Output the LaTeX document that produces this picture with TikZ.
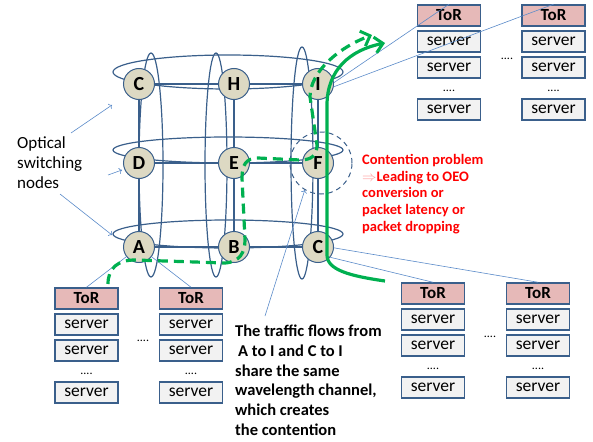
\documentclass[tikz,border=0pt]{standalone}
\usepackage{fontspec}
\setmainfont{Carlito}
\usetikzlibrary{arrows.meta,positioning}

\definecolor{ringblue}{HTML}{3A5F8B}
\definecolor{linkblue}{HTML}{5B8BC9}
\definecolor{nodefill}{HTML}{DDD9C3}
\definecolor{torfill}{HTML}{E6B9B8}
\definecolor{srvfill}{HTML}{F2F2F2}
\definecolor{flowgreen}{HTML}{00B050}

\tikzset{
	switch/.style={circle, draw=ringblue, fill=nodefill, line width=1pt, minimum size=31pt, inner sep=0pt, font=\fontsize{20}{20}\selectfont\bfseries},
	ring/.style={draw=ringblue, line width=1.2pt},
	torbox/.style={rectangle, draw=ringblue, fill=torfill, line width=1.5pt, minimum width=63pt, minimum height=21pt, inner sep=0pt, font=\fontsize{17}{17}\selectfont\bfseries},
	serverbox/.style={torbox, fill=srvfill, font=\fontsize{17.5}{17.5}\selectfont},
	dotsnode/.style={inner sep=0pt, font=\fontsize{12}{12}\selectfont},
	link/.style={draw=linkblue, line width=0.6pt},
	flow/.style={draw=flowgreen, line width=3.2pt},
	dashflow/.style={flow, dash pattern=on 10pt off 6pt},
	flowtip/.style={-{Straight Barb[length=8pt, width=16pt, line width=3pt]}}
}

% a ToR box with its servers below, #1 name, (#2,#3) centre of the ToR box
\newcommand{\serverrack}[3]{
	\node[torbox] (#1) at (#2,#3) {ToR};
	\node[serverbox] (#1s1) at (#2,#3+26) {server};
	\node[serverbox] (#1s2) at (#2,#3+52) {server};
	\node[dotsnode] (#1dots) at (#2,#3+75.5) {....};
	\node[serverbox] (#1s3) at (#2,#3+94) {server};
}

\begin{document}
\begin{tikzpicture}[x=1pt, y=-1pt]
		%%%%% START %%%%%
		\useasboundingbox (0,0) rectangle (593,441);
		
		% rings of the optical core
		\draw[ring] (228,72) ellipse [x radius=115, y radius=17];
		\draw[ring] (228,150) ellipse [x radius=115, y radius=13];
		\draw[ring] (228,234) ellipse [x radius=115, y radius=14];
		\draw[ring] (151,165) ellipse [x radius=12, y radius=112];
		\draw[ring] (216,165) ellipse [x radius=11, y radius=112];
		\draw[ring] (302,163) ellipse [x radius=11, y radius=116];
		
		% switching nodes
		\node[switch] (c) at (139,84) {C};
		\node[switch] (h) at (234,84) {H};
		\node[switch] (i) at (318,84) {I};
		\node[switch] (d) at (139,163) {D};
		\node[switch] (e) at (234,163) {E};
		\node[switch] (f) at (318,163) {F};
		\node[switch] (a) at (139,247) {A};
		\node[switch] (b) at (234,247) {B};
		\node[switch] (cc) at (318,247) {C};
		
		\draw[ring] (c) -- (h) -- (i);
		\draw[ring] (d) -- (e) -- (f);
		\draw[ring] (a) -- (b) -- (cc);
		\draw[ring] (c) -- (d) -- (a);
		\draw[ring] (h) -- (e) -- (b);
		\draw[ring] (i) -- (f) -- (cc);
		
		% contention point
		\node[circle, draw=ringblue, line width=1pt, dash pattern=on 5pt off 4pt, minimum size=62pt] (fring) at (321,163) {};
		
		% racks
		\serverrack{tl}{449}{15.5}
		\serverrack{tr}{553.5}{15.5}
		\serverrack{bl}{86.5}{298.5}
		\serverrack{blr}{191}{298.5}
		\serverrack{br}{433}{293.5}
		\serverrack{brr}{538}{293.5}
		\node[dotsnode] (tdots) at (507,59) {....};
		\node[dotsnode] (bldots) at (143,341) {....};
		\node[dotsnode] (brdots) at (490,337) {....};
		
		% node to ToR links
		\draw[link] (i.5) -- (tl.north);
		\draw[link] (i.-10) -- (tr.north);
		\draw[link] (a) -- (bl.north);
		\draw[link] (a) -- (blr.north);
		\draw[link] (cc.-40) -- (br.north);
		\draw[link] (cc.-3) -- (brr.north);
		
		% traffic A to I and C to I
		\coordinate (astart) at (108,284);
		\coordinate (aend) at (372,35);
		\coordinate (cstart) at (385,281);
		\coordinate (cend) at (385,43);
		\draw[dashflow, flowtip] (astart) .. controls (108,268) and (118,260) .. (135,260) -- (225,263)
			.. controls (240,262) and (245,252) .. (245,240) -- (242,178)
			.. controls (242,165) and (246,158) .. (258,158) -- (300,160)
			.. controls (312,160) and (317,155) .. (317,145) -- (310,97)
			.. controls (310,72) and (338,48) .. (aend);
		\draw[flow, flowtip] (cstart) .. controls (350,276) and (327,270) .. (327,255) -- (327,105)
			.. controls (327,70) and (350,50) .. (cend);
		
		% labels
		\node[anchor=north west, align=left, inner sep=0pt, font=\fontsize{17}{20}\selectfont] (optlabel) at (17,136) {Optical\\switching\\nodes};
		\coordinate (optc) at (112,105);
		\coordinate (optd) at (122,170);
		\coordinate (opta) at (112,235);
		\draw[link, ->] (71,133) -- (optc);
		\draw[link, ->] (108,175) -- (optd);
		\draw[link, ->] (60,194) -- (opta);
		
		\node[anchor=north west, align=left, inner sep=0pt, text=red, font=\fontsize{14.5}{16.75}\selectfont\bfseries] (problem) at (362,154) {Contention problem\\{\color{red!40}$\Rightarrow$}Leading to OEO\\conversion or\\packet latency or\\packet dropping};
		
		\node[anchor=north west, align=left, inner sep=0pt, font=\fontsize{16.5}{19.7}\selectfont\bfseries] (sharenote) at (235,325) {The traffic flows from\\\hspace{3pt}A to I and C to I\\share the same\\wavelength channel,\\which creates\\the contention};
		\coordinate (notetip) at (265,316);
		\draw[link, ->] (notetip) -- (fring.239);
		
		%%%%% END %%%%%
\end{tikzpicture}
\end{document}
